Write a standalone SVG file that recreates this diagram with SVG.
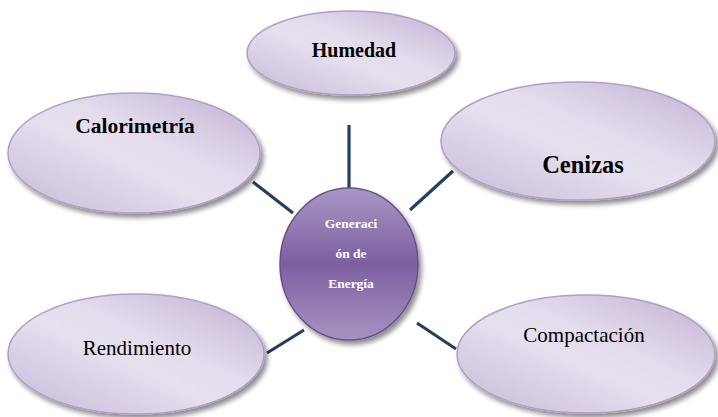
<svg xmlns="http://www.w3.org/2000/svg" width="718" height="417" viewBox="0 0 718 417">
<defs>
<linearGradient id="lav" x1="0" y1="1" x2="1" y2="0">
<stop offset="0" stop-color="#c6b8d8"/>
<stop offset="0.45" stop-color="#e6e0ee"/>
<stop offset="0.6" stop-color="#e3dcec"/>
<stop offset="1" stop-color="#bfaed3"/>
</linearGradient>
<linearGradient id="center" x1="0" y1="0" x2="0" y2="1">
<stop offset="0" stop-color="#a897c4"/>
<stop offset="0.5" stop-color="#7d5fa0"/>
<stop offset="1" stop-color="#a593c2"/>
</linearGradient>
<filter id="sh" x="-10%" y="-10%" width="125%" height="130%">
<feGaussianBlur in="SourceAlpha" stdDeviation="2.5"/>
<feOffset dx="3" dy="4" result="b"/>
<feComponentTransfer><feFuncA type="linear" slope="0.45"/></feComponentTransfer>
<feMerge><feMergeNode/><feMergeNode in="SourceGraphic"/></feMerge>
</filter>
</defs>
<style>
.outer{fill:url(#lav);stroke:#b09fc6;stroke-width:1.5;filter:url(#sh)}
.ctr{fill:url(#center);stroke:#6a4f8c;stroke-width:1.5;filter:url(#sh)}
text{font-family:'Liberation Serif','Times New Roman',serif}
.lbl{fill:#000;text-anchor:middle}
.b{font-weight:bold}
.w{fill:#fff;font-weight:bold;font-size:13.5px;text-anchor:middle}
.con{stroke:#23405f;stroke-width:3.2;fill:none}
</style>
<rect width="718" height="417" fill="#fff"/>
<g id="connectors">
<line class="con" x1="349" y1="125" x2="349" y2="192"/>
<line class="con" x1="253" y1="182" x2="293" y2="213"/>
<line class="con" x1="453" y1="171" x2="410" y2="210"/>
<line class="con" x1="267" y1="353" x2="304" y2="330"/>
<line class="con" x1="456" y1="349" x2="417" y2="323"/>
</g>
<g id="humedad">
<ellipse class="outer" cx="351" cy="53" rx="104" ry="42"/>
<text class="lbl b" x="354" y="57" font-size="20">Humedad</text>
</g>
<g id="calorimetria">
<ellipse class="outer" cx="134" cy="153" rx="126" ry="60"/>
<text class="lbl b" x="135" y="133" font-size="21.5">Calorimetría</text>
</g>
<g id="cenizas">
<ellipse class="outer" cx="578" cy="141" rx="137" ry="59"/>
<text class="lbl b" x="583" y="173" font-size="24.5">Cenizas</text>
</g>
<g id="rendimiento">
<ellipse class="outer" cx="136" cy="354" rx="128" ry="60"/>
<text class="lbl" x="137" y="355" font-size="21">Rendimiento</text>
</g>
<g id="compactacion">
<ellipse class="outer" cx="586" cy="354" rx="129" ry="59"/>
<text class="lbl" x="584" y="342" font-size="21">Compactación</text>
</g>
<g id="generacion">
<ellipse class="ctr" cx="349" cy="264" rx="69" ry="76"/>
<text class="w" x="351" y="228">Generaci</text>
<text class="w" x="351" y="258">ón de</text>
<text class="w" x="351" y="288">Energía</text>
</g>
</svg>
